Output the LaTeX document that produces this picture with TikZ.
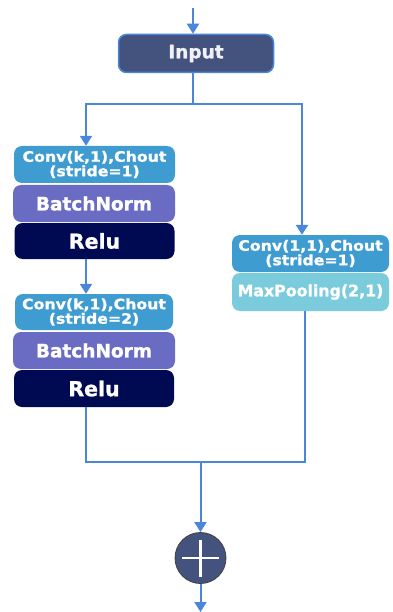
\documentclass[tikz,border=0pt]{standalone}
\usepackage{fontspec}
\setmainfont{DejaVu Sans}[BoldFeatures={FakeBold=1.2}]
\newfontfamily\convfont{DejaVu Sans}[BoldFeatures={FakeStretch=1.1,FakeBold=1.2}]
\usetikzlibrary{arrows.meta}
\definecolor{conv}{RGB}{63,156,208}
\definecolor{bn}{RGB}{106,108,196}
\definecolor{relu}{RGB}{0,10,82}
\definecolor{mpool}{RGB}{122,203,220}
\definecolor{inp}{RGB}{68,82,126}
\definecolor{lnk}{RGB}{74,134,218}
\begin{document}
\begin{tikzpicture}[x=1pt,y=-1pt,
  blk/.style={rounded corners=8pt, inner sep=0pt, text=white, align=center, font=\bfseries},
  convbox/.style={blk, fill=conv, minimum width=161pt, minimum height=37pt,
     font=\convfont\bfseries\fontsize{14.3}{14.5}\selectfont},
  bnbox/.style={blk, fill=bn, minimum width=162pt, minimum height=37pt, font=\bfseries\fontsize{18.5}{20}\selectfont},
  relubox/.style={blk, fill=relu, minimum width=160pt, minimum height=36pt, font=\bfseries\fontsize{20.5}{22}\selectfont},
  line/.style={draw=lnk, line width=2pt},
  arr/.style={line, -{Triangle[width=12pt,length=10pt]}}
]
\useasboundingbox (0,0) rectangle (392,612);
% nodes
\node[blk, fill=inp, draw=lnk, line width=1.5pt, minimum width=155pt, minimum height=38pt,
  font=\bfseries\fontsize{18.5}{20}\selectfont, text=white!92!inp] (in) at (196,53.5) {Input};
\node[convbox] (c1) at (94.5,164.5) {Conv(k,1),Chout\\(stride=1)};
\node[bnbox] (b1) at (94,203.5) {BatchNorm};
\node[relubox] (r1) at (94.5,241) {Relu};
\node[convbox, minimum width=158pt, minimum height=36pt] (c2) at (94,312) {Conv(k,1),Chout\\(stride=2)};
\node[bnbox] (b2) at (94,350.5) {BatchNorm};
\node[relubox, minimum height=37pt] (r2) at (94,388.5) {Relu};
\node[convbox, minimum width=157pt] (c3) at (310.5,253.5) {Conv(1,1),Chout\\(stride=1)};
\node[blk, fill=mpool, minimum width=157pt, minimum height=38pt,
  font=\bfseries\fontsize{15.8}{17}\selectfont] (mp) at (310.5,292) {MaxPooling(2,1)};
\node[circle, fill=inp, draw=black!75, line width=0.8pt, minimum size=51pt, inner sep=0pt] (sum) at (200.5,558) {};
\draw[white, line width=2.6pt] ([xshift=-18.5pt]sum.center) -- ([xshift=18.5pt]sum.center)
  ([yshift=-18.5pt]sum.center) -- ([yshift=18.5pt]sum.center);
% coordinates
\coordinate (top) at (193,8);
\coordinate (split) at (193,104);
\coordinate (lx) at (86,0);
\coordinate (rx) at (302,0);
\coordinate (rx2) at (305,0);
\coordinate (merge) at (200.5,462);
\coordinate (out) at (200.5,612);
% connectors
\draw[arr] (top) -- (top |- in.north);
\draw[line] (in.south -| split) -- (split);
\draw[arr] (split) -| (c1.north -| lx);
\draw[arr] (split) -| (c3.north -| rx);
\draw[arr] (r1.south -| lx) -- (c2.north -| lx);
\draw[line] (r2.south -| lx) |- (merge) -| (mp.south -| rx2);
\draw[arr] (merge) -- (sum.north);
\draw[arr] (sum.south) -- (out);
\end{tikzpicture}
\end{document}
